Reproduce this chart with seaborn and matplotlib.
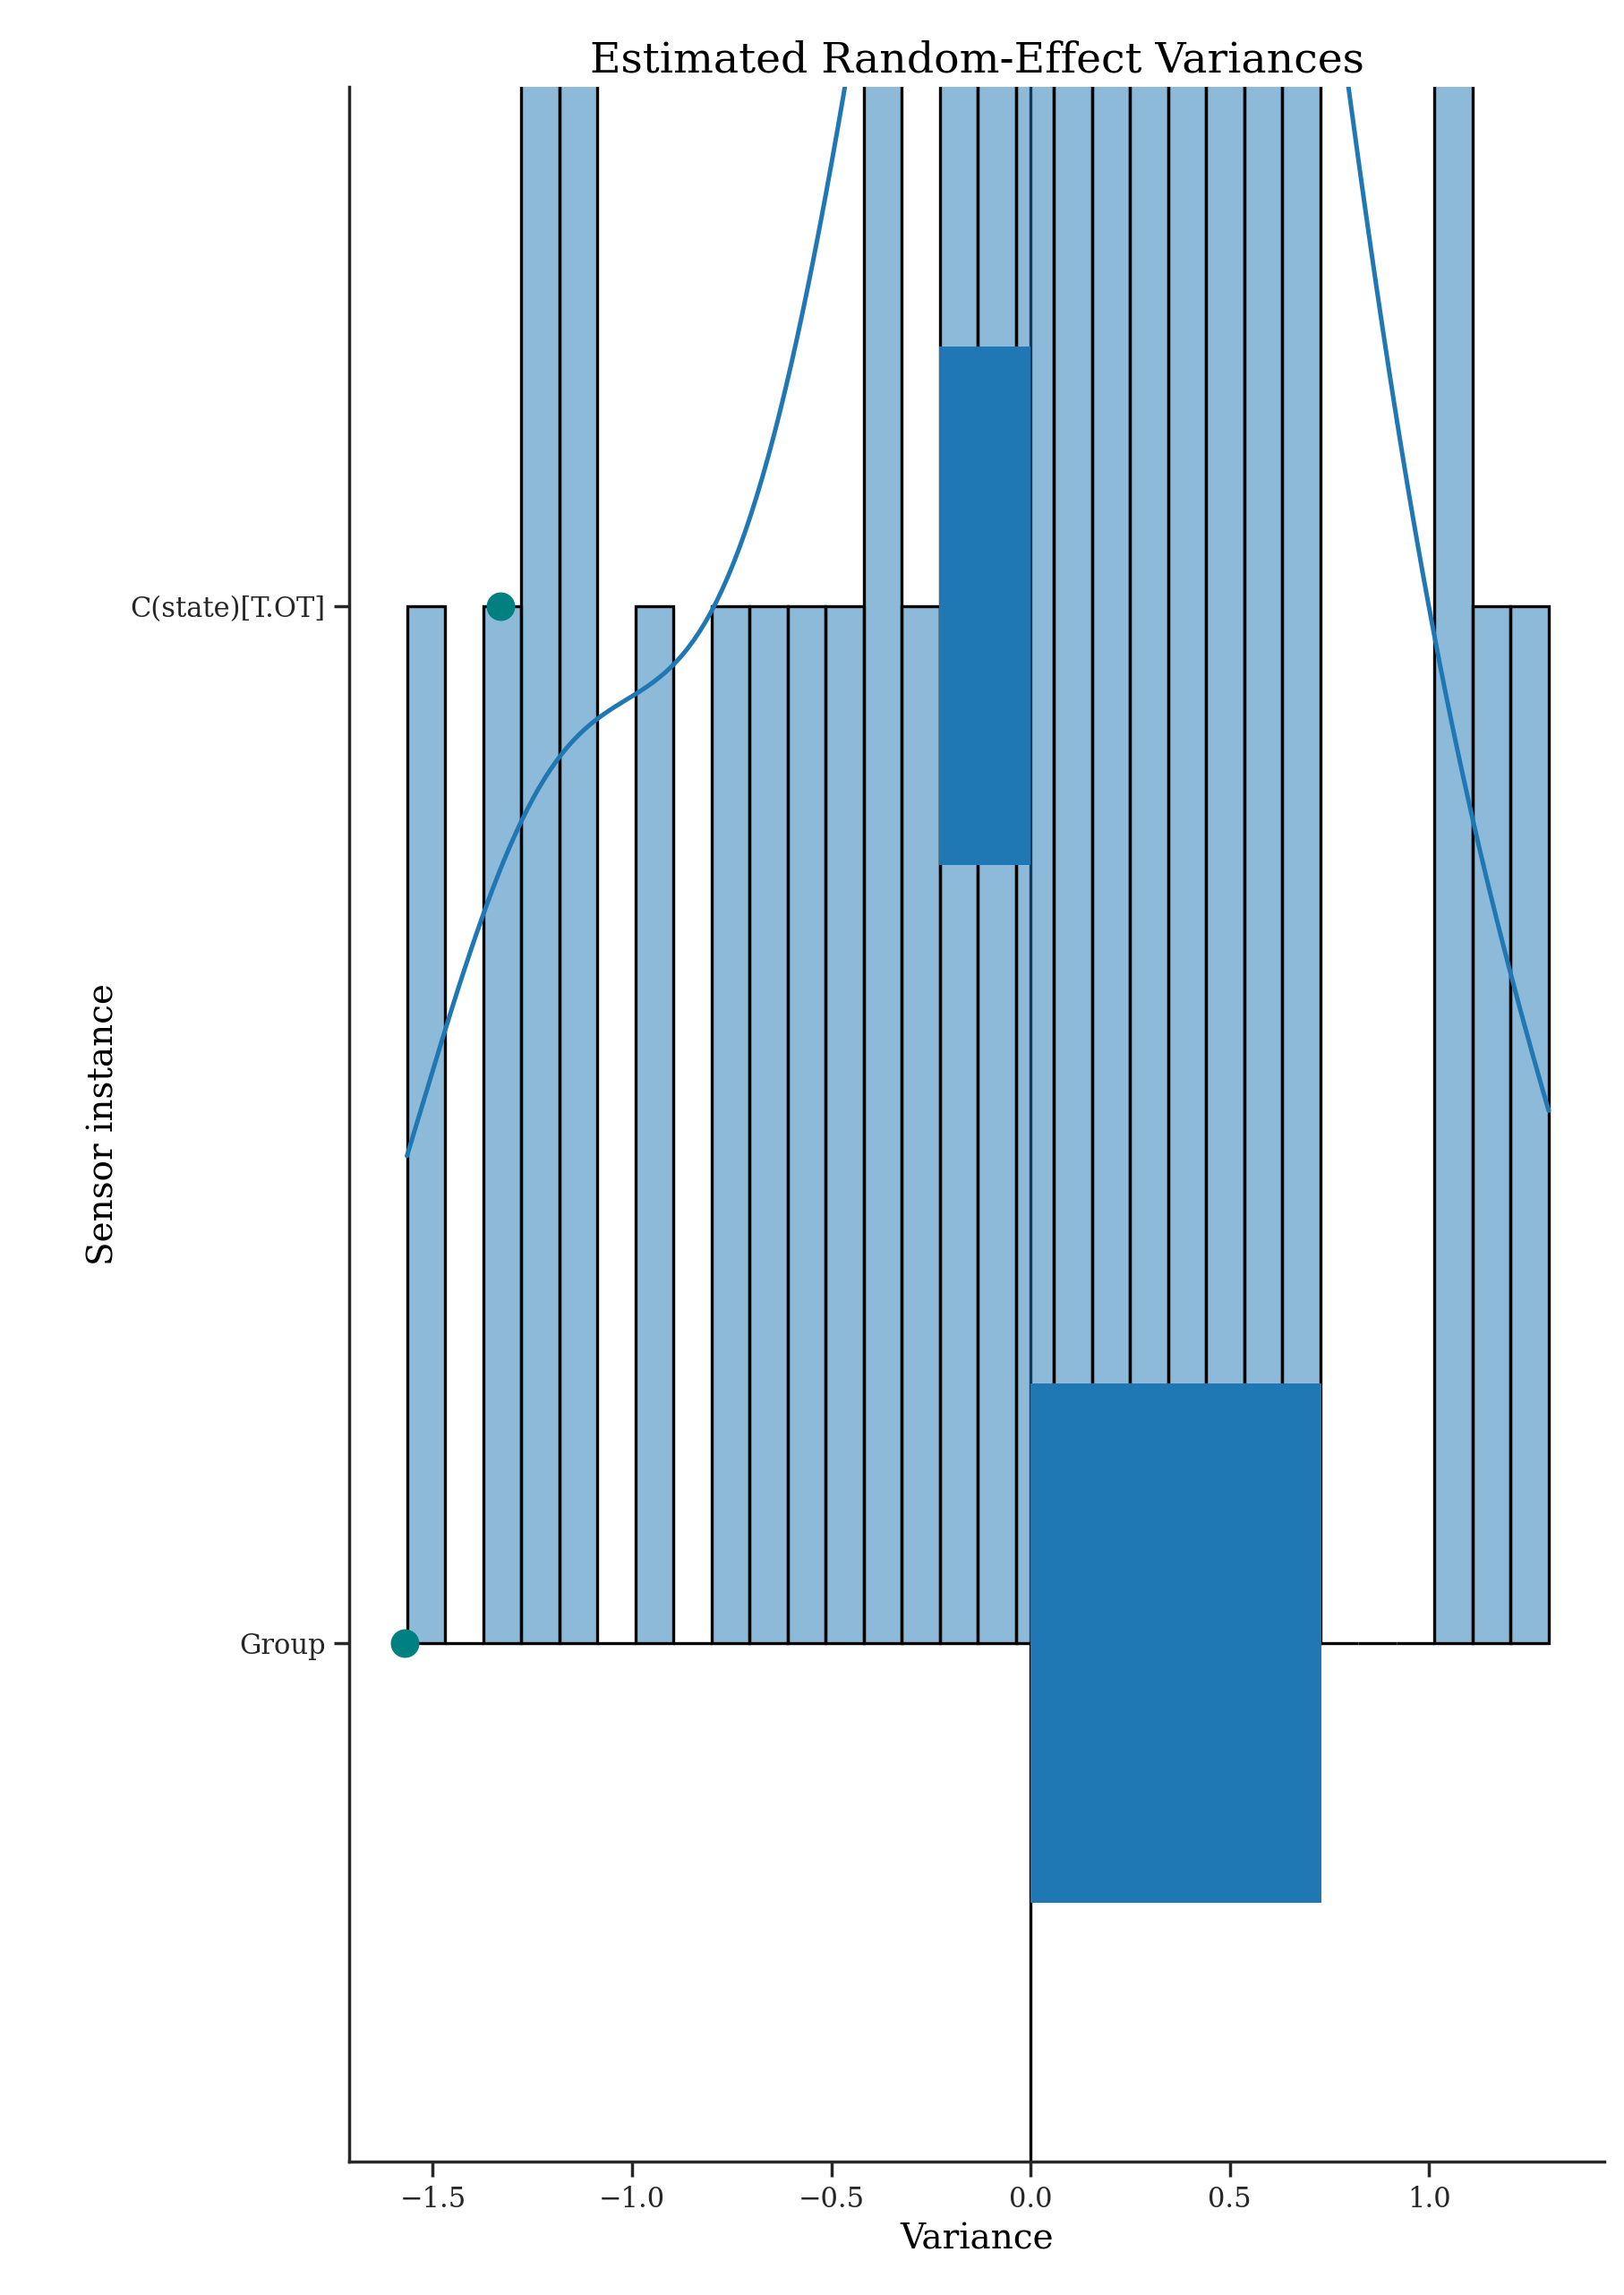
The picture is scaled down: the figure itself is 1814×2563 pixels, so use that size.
import numpy as np
import pandas as pd
import matplotlib
matplotlib.use("Agg")
import matplotlib.pyplot as plt
import seaborn as sns

# random-effect estimates (one value per sensor draw)
effects = [-1.565,
           -1.326,
           -1.231, -1.231,
           -1.135, -1.135,
           -0.944,
           -0.753, -0.658, -0.562, -0.467,
           -0.371, -0.371,
           -0.276,
           -0.180, -0.180, -0.180,
           -0.085, -0.085, -0.085,
           0.011, 0.011, 0.011,
           0.106, 0.106, 0.106,
           0.202, 0.202, 0.202,
           0.297, 0.297, 0.297,
           0.393, 0.393, 0.393,
           0.488, 0.488, 0.488,
           0.584, 0.584, 0.584,
           0.679, 0.679, 0.679,
           1.061, 1.061,
           1.157,
           1.300]

groups = ["Group", "C(state)[T.OT]"]
variances = [0.73, -0.23]
point_x = [-1.57, -1.33]

sns.set_theme(style="ticks")
plt.rcParams['font.family'] = ['DejaVu Serif']
plt.rcParams['text.color'] = 'black'
plt.rcParams['axes.labelcolor'] = 'black'

fig, ax = plt.subplots(figsize=(9.07, 12.815), dpi=200)

sns.histplot(x=effects, bins=30, kde=True, color="#1f77b4", edgecolor="black",
             linewidth=1.2, alpha=0.5, ax=ax, line_kws={"linewidth": 1.8})
ax.axvline(0, color="black", linewidth=1.2, zorder=0)

df = pd.DataFrame({"group": groups, "var": variances})
sns.barplot(data=df, x="var", y="group", order=groups, orient="h", width=0.5,
            color="#1f77b4", saturation=1, linewidth=0, ax=ax)
ax.scatter(point_x, [0, 1], color="teal", s=110, zorder=5)

ax.set_ylim(-0.5, 1.5)
ax.set_yticks([0, 1])
ax.set_yticklabels(groups)
ax.set_xlim(-1.71, 1.44)
ax.set_xticks([-1.5, -1.0, -0.5, 0.0, 0.5, 1.0])
ax.set_xticklabels(["\u22121.5", "\u22121.0", "\u22120.5", "0.0", "0.5", "1.0"])
ax.tick_params(labelsize=11)
ax.set_xlabel("Variance", fontsize=14)
ax.set_ylabel("Sensor instance", fontsize=14)
ax.set_title("Estimated Random-Effect Variances", fontsize=17)
sns.despine(ax=ax)

plt.subplots_adjust(left=0.215, right=0.988, top=0.962, bottom=0.058)
plt.savefig("out.png", dpi=200)
